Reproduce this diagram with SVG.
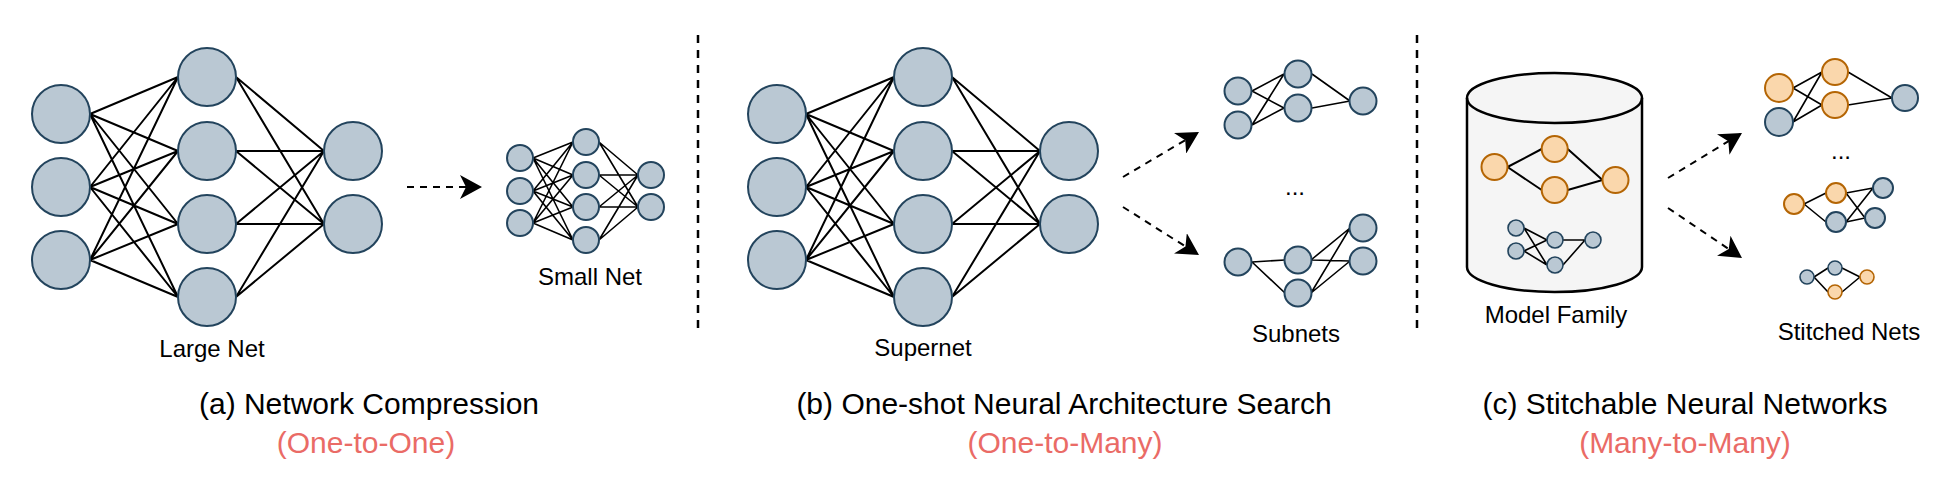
<svg xmlns="http://www.w3.org/2000/svg" width="1945" height="492" viewBox="0 0 1945 492">
<style>
.b{fill:#BAC8D3;stroke:#23445D;stroke-width:2}
.o{fill:#FAD7AC;stroke:#B46504;stroke-width:2}
.e{fill:none;stroke:#000;stroke-width:2}
.es{fill:none;stroke:#000;stroke-width:1.6}
.arr{fill:none;stroke:#000;stroke-width:2;stroke-dasharray:7 6}
.sep{fill:none;stroke:#000;stroke-width:2.5;stroke-dasharray:8 7}
.lbl{font-family:"Liberation Sans",Arial,sans-serif;font-size:24px;fill:#000;text-anchor:middle}
.cap{font-family:"Liberation Sans",Arial,sans-serif;font-size:30px;fill:#000;text-anchor:middle}
.red{font-family:"Liberation Sans",Arial,sans-serif;font-size:30px;fill:#EA6B66;text-anchor:middle}
</style>
<defs>
<marker id="ah" markerUnits="userSpaceOnUse" markerWidth="24" markerHeight="24" refX="22" refY="12" orient="auto">
<path d="M0,0 L22,12 L0,24 L6,12 Z" fill="#000"/>
</marker>
</defs>
<rect width="1945" height="492" fill="#fff"/>
<g id="model-family">
<path d="M1467,98 A87.5,25 0 0 1 1642,98 L1642,267 A87.5,25 0 0 1 1467,267 Z" fill="#F5F5F5" stroke="#000" stroke-width="2.5"/>
<path d="M1467,98 A87.5,25 0 0 0 1642,98" fill="none" stroke="#000" stroke-width="2.5"/>
<text class="lbl" x="1556" y="323">Model Family</text>
</g>
<g id="connectors">
<path class="e" d="M90,114L178,77M90,114L178,151M90,114L178,224M90,114L178,297M90,187L178,77M90,187L178,151M90,187L178,224M90,187L178,297M90,260L178,77M90,260L178,151M90,260L178,224M90,260L178,297M236,77L324,151M236,77L324,224M236,151L324,151M236,151L324,224M236,224L324,151M236,224L324,224M236,297L324,151M236,297L324,224"/>
<path class="e" d="M806,114L894,77M806,114L894,151M806,114L894,224M806,114L894,297M806,187L894,77M806,187L894,151M806,187L894,224M806,187L894,297M806,260L894,77M806,260L894,151M806,260L894,224M806,260L894,297M952,77L1040,151M952,77L1040,224M952,151L1040,151M952,151L1040,224M952,224L1040,151M952,224L1040,224M952,297L1040,151M952,297L1040,224"/>
<path class="es" d="M533,158L573,142M533,158L573,175M533,158L573,207M533,158L573,240M533,191L573,142M533,191L573,175M533,191L573,207M533,191L573,240M533,223L573,142M533,223L573,175M533,223L573,207M533,223L573,240M599,142L638,175M599,142L638,207M599,175L638,175M599,175L638,207M599,207L638,175M599,207L638,207M599,240L638,175M599,240L638,207"/>
<path class="es" d="M1252,91L1284,74M1252,91L1284,108M1252,125L1284,74M1252,125L1284,108M1312,74L1350,101M1312,108L1350,101"/>
<path class="es" d="M1252,262L1285,260M1252,262L1285,293M1311,260L1350,228M1311,260L1350,261M1311,293L1350,228M1311,293L1350,261"/>
<path class="e" d="M1507.5,167L1541.7,149M1507.5,167L1541.7,190M1567.7,149L1602.5,180M1567.7,190L1602.5,180"/>
<path class="es" d="M1524,228L1547,240M1524,228L1547,265M1524,251L1547,240M1524,251L1547,265M1563,240L1585,240M1563,265L1585,240"/>
<path class="es" d="M1793,88L1822,72M1793,88L1822,105M1793,122L1822,72M1793,122L1822,105M1848,72L1892,98M1848,105L1892,98"/>
<path class="es" d="M1804,204L1826,193M1804,204L1826,222M1846,193L1873,188M1846,193L1865,218M1846,222L1873,188M1846,222L1865,218"/>
<path class="es" d="M1814,277L1828,268M1814,277L1828,292M1842,268L1860,277M1842,292L1860,277"/>
<path class="arr" d="M407,187L482,187" marker-end="url(#ah)"/>
<path class="arr" d="M1123,177L1199,132" marker-end="url(#ah)"/>
<path class="arr" d="M1123,207L1199,255" marker-end="url(#ah)"/>
<path class="arr" d="M1668,178L1742,133" marker-end="url(#ah)"/>
<path class="arr" d="M1668,208L1742,258" marker-end="url(#ah)"/>
</g>
<g id="separators">
<path class="sep" d="M698,35L698,332"/>
<path class="sep" d="M1417,35L1417,332"/>
</g>
<g id="large-net">
<circle class="b" cx="61" cy="114" r="29"/><circle class="b" cx="61" cy="187" r="29"/><circle class="b" cx="61" cy="260" r="29"/>
<circle class="b" cx="207" cy="77" r="29"/><circle class="b" cx="207" cy="151" r="29"/><circle class="b" cx="207" cy="224" r="29"/><circle class="b" cx="207" cy="297" r="29"/>
<circle class="b" cx="353" cy="151" r="29"/><circle class="b" cx="353" cy="224" r="29"/>
<text class="lbl" x="212" y="357">Large Net</text>
</g>
<g id="small-net">
<circle class="b" cx="520" cy="158" r="13"/><circle class="b" cx="520" cy="191" r="13"/><circle class="b" cx="520" cy="223" r="13"/>
<circle class="b" cx="586" cy="142" r="13"/><circle class="b" cx="586" cy="175" r="13"/><circle class="b" cx="586" cy="207" r="13"/><circle class="b" cx="586" cy="240" r="13"/>
<circle class="b" cx="651" cy="175" r="13"/><circle class="b" cx="651" cy="207" r="13"/>
<text class="lbl" x="590" y="285">Small Net</text>
</g>
<g id="supernet">
<circle class="b" cx="777" cy="114" r="29"/><circle class="b" cx="777" cy="187" r="29"/><circle class="b" cx="777" cy="260" r="29"/>
<circle class="b" cx="923" cy="77" r="29"/><circle class="b" cx="923" cy="151" r="29"/><circle class="b" cx="923" cy="224" r="29"/><circle class="b" cx="923" cy="297" r="29"/>
<circle class="b" cx="1069" cy="151" r="29"/><circle class="b" cx="1069" cy="224" r="29"/>
<text class="lbl" x="923" y="356">Supernet</text>
</g>
<g id="subnets">
<circle class="b" cx="1238" cy="91" r="13.5"/><circle class="b" cx="1238" cy="125" r="13.5"/>
<circle class="b" cx="1298" cy="74" r="13.5"/><circle class="b" cx="1298" cy="108" r="13.5"/>
<circle class="b" cx="1363" cy="101" r="13.5"/>
<text class="lbl" x="1295" y="195">...</text>
<circle class="b" cx="1238" cy="262" r="13.5"/><circle class="b" cx="1298" cy="260" r="13.5"/><circle class="b" cx="1298" cy="293" r="13.5"/>
<circle class="b" cx="1363" cy="228" r="13.5"/><circle class="b" cx="1363" cy="261" r="13.5"/>
<text class="lbl" x="1296" y="342">Subnets</text>
</g>
<g id="model-family-nets">
<circle class="o" cx="1494.5" cy="167" r="13"/><circle class="o" cx="1554.7" cy="149" r="13"/><circle class="o" cx="1554.7" cy="190" r="13"/><circle class="o" cx="1615.5" cy="180" r="13"/>
<circle class="b" cx="1516" cy="228" r="8" style="stroke-width:1.6"/><circle class="b" cx="1516" cy="251" r="8" style="stroke-width:1.6"/>
<circle class="b" cx="1555" cy="240" r="8" style="stroke-width:1.6"/><circle class="b" cx="1555" cy="265" r="8" style="stroke-width:1.6"/>
<circle class="b" cx="1593" cy="240" r="8" style="stroke-width:1.6"/>
</g>
<g id="stitched-nets">
<circle class="o" cx="1779" cy="88" r="14"/><circle class="b" cx="1779" cy="122" r="14"/>
<circle class="o" cx="1835" cy="72" r="13"/><circle class="o" cx="1835" cy="105" r="13"/>
<circle class="b" cx="1905" cy="98" r="13"/>
<text class="lbl" x="1841" y="159">...</text>
<circle class="o" cx="1794" cy="204" r="10"/><circle class="o" cx="1836" cy="193" r="10"/><circle class="b" cx="1836" cy="222" r="10"/>
<circle class="b" cx="1883" cy="188" r="10"/><circle class="b" cx="1875" cy="218" r="10"/>
<circle class="b" cx="1807" cy="277" r="7" style="stroke-width:1.6"/><circle class="b" cx="1835" cy="268" r="7" style="stroke-width:1.6"/>
<circle class="o" cx="1835" cy="292" r="7" style="stroke-width:1.6"/><circle class="o" cx="1867" cy="277" r="7" style="stroke-width:1.6"/>
<text class="lbl" x="1849" y="340">Stitched Nets</text>
</g>
<g id="captions">
<text class="cap" x="369" y="414">(a) Network Compression</text>
<text class="red" x="366" y="453">(One-to-One)</text>
<text class="cap" x="1064" y="414">(b) One-shot Neural Architecture Search</text>
<text class="red" x="1065" y="453">(One-to-Many)</text>
<text class="cap" x="1685" y="414">(c) Stitchable Neural Networks</text>
<text class="red" x="1685" y="453">(Many-to-Many)</text>
</g>
</svg>
